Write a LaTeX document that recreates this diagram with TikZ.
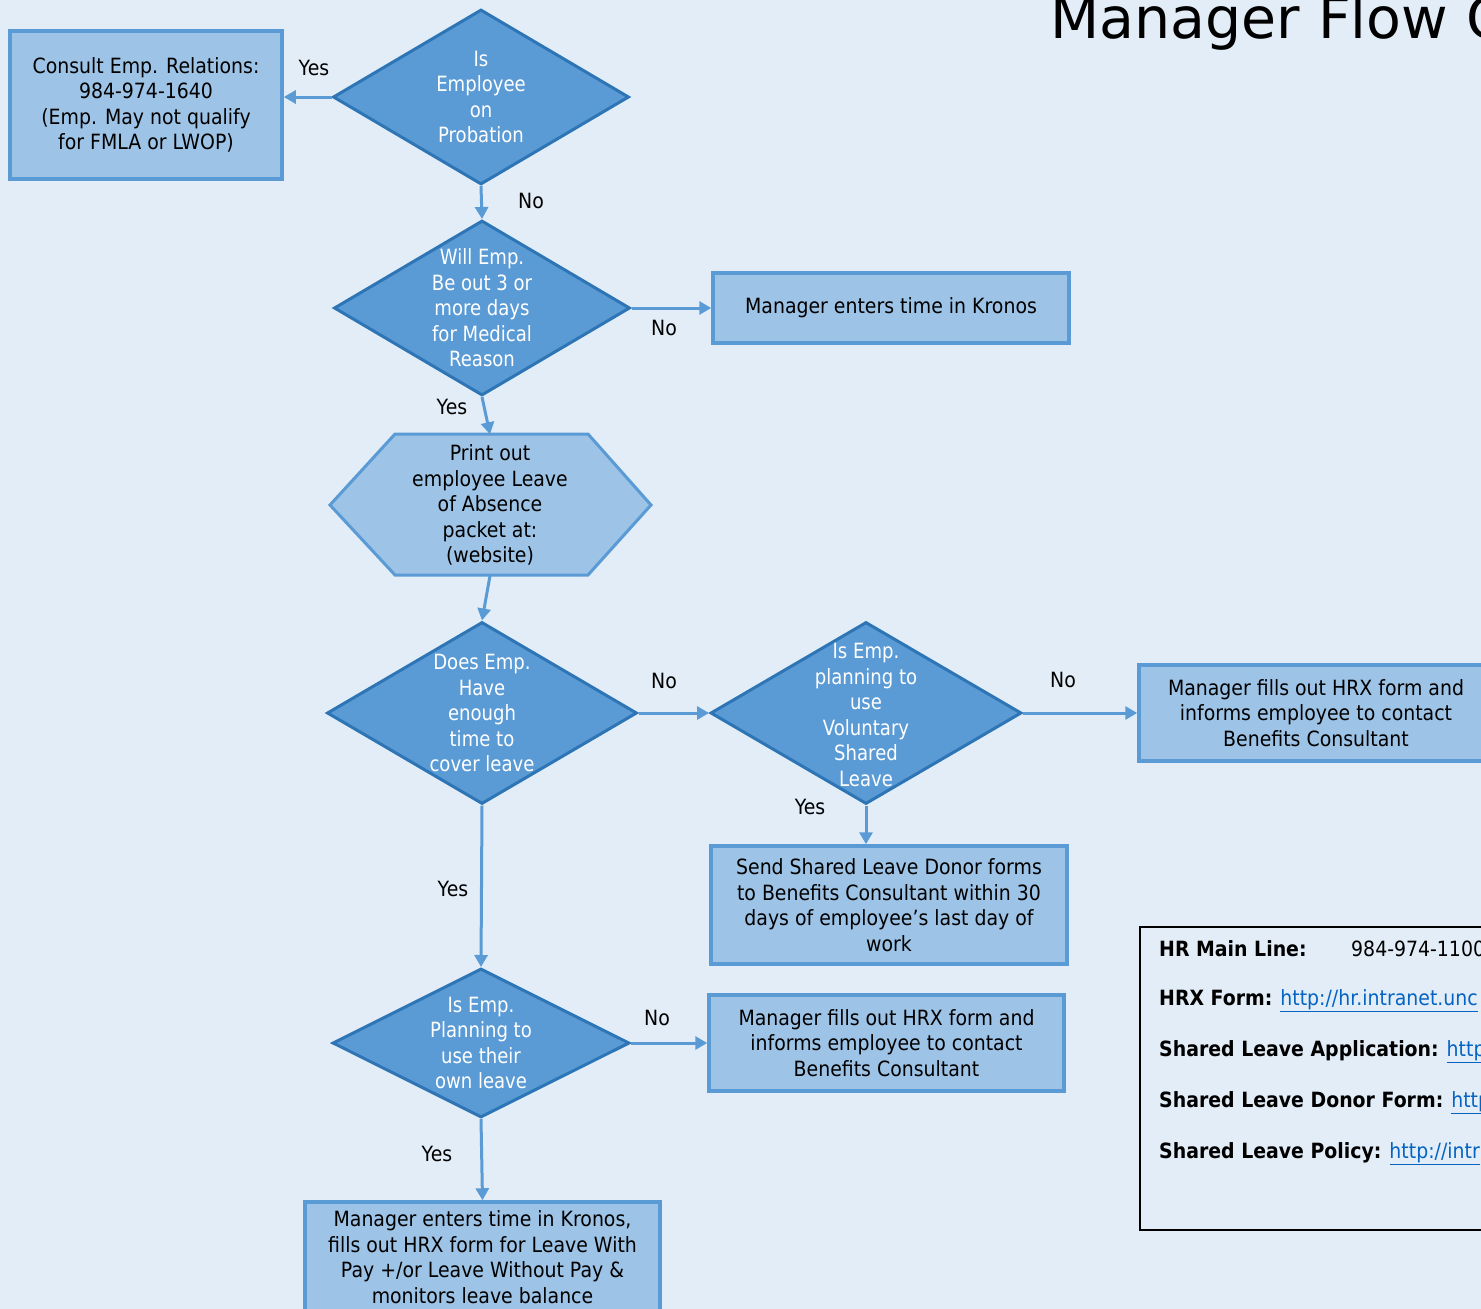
\documentclass[tikz,border=0pt]{standalone}
\usepackage{fontspec}
\setmainfont{DejaVu Sans}[FakeStretch=0.9]
\newfontfamily\condfont{DejaVu Sans}[FakeStretch=0.86]
\newfontfamily\titlefont{DejaVu Sans}
\usetikzlibrary{shapes.geometric,arrows.meta}
\definecolor{bg}{HTML}{E2EDF7}
\definecolor{boxfill}{HTML}{9DC3E6}
\definecolor{boxline}{HTML}{5B9BD5}
\definecolor{diafill}{HTML}{5B9BD5}
\definecolor{dialine}{HTML}{2E75B6}
\definecolor{linkc}{HTML}{0563C1}
\tikzset{
 procbox/.style={rectangle, draw=boxline, fill=boxfill, line width=3.5pt, align=center, font=\fontsize{21}{25.5}\selectfont, inner sep=0pt},
 dia/.style={diamond, draw=dialine, fill=diafill, line width=3pt, inner sep=0pt},
 diatext/.style={text=white, align=center, font=\condfont\fontsize{21}{25.5}\selectfont, inner sep=0pt},
 arr/.style={draw=boxline, line width=3pt, -{Triangle[length=12pt,width=13pt]}},
 lbl/.style={font=\fontsize{21}{25.5}\selectfont, inner sep=0pt},
 infotext/.style={anchor=west, font=\fontsize{21}{25.5}\selectfont, inner sep=0pt},
}
\newcommand{\lnk}[1]{\textcolor{linkc}{\underline{#1}}}
\begin{document}
\begin{tikzpicture}[x=1pt,y=-1pt]
\useasboundingbox (0,0) rectangle (1481,1309);
\fill[bg] (0,0) rectangle (1481,1309);
\clip (0,0) rectangle (1481,1309);

% title
\node[anchor=base west, font=\titlefont\fontsize{57}{62}\selectfont, inner sep=0pt] (title) at (1050,38) {Manager Flow Chart};

% boxes
\node[procbox, minimum width=272pt, minimum height=148pt] (box1) at (146,105) {Consult Emp. Relations:\\984-974-1640\\(Emp. May not qualify\\for FMLA or LWOP)};
\node[procbox, minimum width=356pt, minimum height=70pt] (kron) at (891,308) {Manager enters time in Kronos};
\node[procbox, minimum width=354pt, minimum height=96pt] (hrx1) at (1316,713) {Manager fills out HRX form and\\informs employee to contact\\Benefits Consultant};
\node[procbox, minimum width=356pt, minimum height=118pt] (shared) at (889,905) {Send Shared Leave Donor forms\\to Benefits Consultant within 30\\days of employee’s last day of\\work};
\node[procbox, minimum width=355pt, minimum height=96pt] (hrx2) at (886.5,1043) {Manager fills out HRX form and\\informs employee to contact\\Benefits Consultant};
\node[procbox, minimum width=355pt, minimum height=110pt] (final) at (482.5,1257) {Manager enters time in Kronos,\\fills out HRX form for Leave With\\Pay +/or Leave Without Pay \&\\monitors leave balance};

% hexagon
\draw[draw=boxline, fill=boxfill, line width=3pt] (395,434) -- (588,434) -- (651,505) -- (588,575) -- (395,575) -- (330,505) -- cycle;
\node[align=center, font=\fontsize{21}{25.5}\selectfont, minimum width=193pt, minimum height=141pt, inner sep=0pt] (hex) at (490,505) {Print out\\employee Leave\\of Absence\\packet at:\\(website)};

% diamonds
\node[dia, minimum width=296pt, minimum height=175pt, label={[diatext]center:{Is\\Employee\\on\\Probation}}] (d1) at (481,97) {};
\node[dia, minimum width=296pt, minimum height=175pt, label={[diatext]center:{Will Emp.\\Be out 3 or\\more days\\for Medical\\Reason}}] (d2) at (482,308) {};
\node[dia, minimum width=310pt, minimum height=182pt, label={[diatext]center:{Does Emp.\\Have\\enough\\time to\\cover leave}}] (d3) at (482,713) {};
\node[dia, minimum width=311pt, minimum height=182pt, label={[diatext, yshift=-2pt]center:{Is Emp.\\planning to\\use\\Voluntary\\Shared\\Leave}}] (d4) at (866,713) {};
\node[dia, minimum width=297pt, minimum height=149pt, label={[diatext]center:{Is Emp.\\Planning to\\use their\\own leave}}] (d5) at (481,1043) {};

% connectors
\draw[arr] (d1.west) -- (d1.west -| box1.east) node[lbl] at (314,68) {Yes};
\draw[arr] (d1.south) -- (d2.north) node[lbl] at (531,201) {No};
\draw[arr] (d2.east) -- (kron.west) node[lbl] at (664,328) {No};
\draw[arr] (d2.south) -- (hex.north) node[lbl] at (452,407) {Yes};
\draw[arr] (hex.south) -- (d3.north);
\draw[arr] (d3.east) -- (d4.west) node[lbl] at (664,681) {No};
\draw[arr] (d4.east) -- (hrx1.west) node[lbl] at (1063,680) {No};
\draw[arr] (d4.south) -- (d4.south |- shared.north) node[lbl] at (810,807) {Yes};
\draw[arr] (d3.south) -- (d5.north) node[lbl] at (453,889) {Yes};
\draw[arr] (d5.east) -- (hrx2.west) node[lbl] at (657,1018) {No};
\draw[arr] (d5.south) -- (final.north) node[lbl] at (437,1154) {Yes};

% info box
\node[draw=black, line width=2pt, fill=bg, minimum width=420pt, minimum height=303pt, inner sep=0pt] (info) at (1350,1078.5) {};
\node[infotext] (i1) at (1159,949) {\makebox[192pt][l]{\textbf{HR Main Line:}}984-974-1100};
\node[infotext] (i2) at (1159,1001) {\textbf{HRX Form:} \lnk{http://hr.intranet.unc}};
\node[infotext] (i3) at (1159,1052) {\textbf{Shared Leave Application:} \lnk{http}};
\node[infotext] (i4) at (1159,1103) {\textbf{Shared Leave Donor Form:} \lnk{http}};
\node[infotext] (i5) at (1159,1154) {\textbf{Shared Leave Policy:} \lnk{http://intr}};
\end{tikzpicture}
\end{document}
